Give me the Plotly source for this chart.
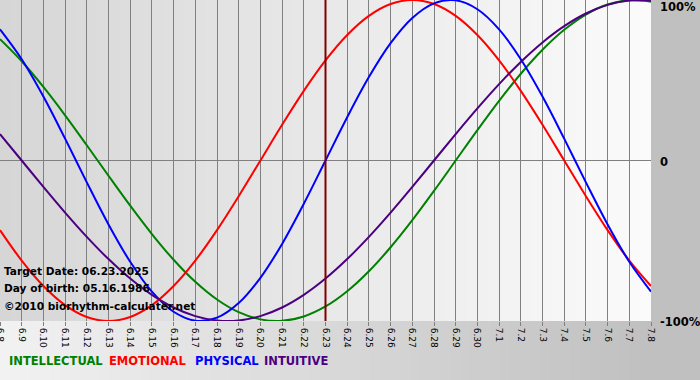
import plotly.graph_objects as go

# ---------------- data ----------------
dates = ["6.8", "6.9", "6.10", "6.11", "6.12", "6.13", "6.14", "6.15", "6.16", "6.17",
         "6.18", "6.19", "6.20", "6.21", "6.22", "6.23", "6.24", "6.25", "6.26", "6.27",
         "6.28", "6.29", "6.30", "7.1", "7.2", "7.3", "7.4", "7.5", "7.6", "7.7", "7.8"]

intellectual = [0.7557, 0.6182, 0.4582, 0.2817, 0.0951, -0.0951, -0.2817, -0.4582, -0.6182, -0.7557,
                -0.8660, -0.9450, -0.9898, -0.9989, -0.9718, -0.9096, -0.8146, -0.6901, -0.5406, -0.3717,
                -0.1893, 0.0, 0.1893, 0.3717, 0.5406, 0.6901, 0.8146, 0.9096, 0.9718, 0.9989, 0.9898]

emotional = [-0.4339, -0.6235, -0.7818, -0.9010, -0.9749, -1.0, -0.9749, -0.9010, -0.7818, -0.6235,
             -0.4339, -0.2225, 0.0, 0.2225, 0.4339, 0.6235, 0.7818, 0.9010, 0.9749, 1.0,
             0.9749, 0.9010, 0.7818, 0.6235, 0.4339, 0.2225, 0.0, -0.2225, -0.4339, -0.6235, -0.7818]

physical = [0.8170, 0.6310, 0.3984, 0.1362, -0.1362, -0.3984, -0.6310, -0.8170, -0.9423, -0.9977,
            -0.9791, -0.8879, -0.7308, -0.5196, -0.2698, 0.0, 0.2698, 0.5196, 0.7308, 0.8879,
            0.9791, 0.9977, 0.9423, 0.8170, 0.6310, 0.3984, 0.1362, -0.1362, -0.3984, -0.6310, -0.8170]

intuitive = [0.1646, 0.0, -0.1646, -0.3247, -0.4759, -0.6142, -0.7357, -0.8372, -0.9158, -0.9694,
             -0.9966, -0.9966, -0.9694, -0.9158, -0.8372, -0.7357, -0.6142, -0.4759, -0.3247, -0.1646,
             0.0, 0.1646, 0.3247, 0.4759, 0.6142, 0.7357, 0.8372, 0.9158, 0.9694, 0.9966, 0.9966]

target_date = "6.23"
y_tick_vals = [1, 0, -1]
y_tick_text = ["100%", "0", "-100%"]
info_lines = ["Target Date: 06.23.2025", "Day of birth: 05.16.1986", "©2010 biorhythm-calculater.net"]
legend_names = ["INTELLECTUAL", "EMOTIONAL", "PHYSICAL", "INTUITIVE"]

# ---------------- layout geometry ----------------
W, H = 700, 380
L, R, T, B = 0, 49, 0, 59
PW, PH = W - L - R, H - T - B

def px(x):
    return (x - L) / PW

def py(y):
    return (T + PH - y) / PH

colors = {"INTELLECTUAL": "#008000", "EMOTIONAL": "#ff0000",
          "PHYSICAL": "#0000ff", "INTUITIVE": "#4b0082"}
series = {"INTELLECTUAL": intellectual, "EMOTIONAL": emotional,
          "PHYSICAL": physical, "INTUITIVE": intuitive}

fig = go.Figure()
for name in ["INTELLECTUAL", "EMOTIONAL", "PHYSICAL", "INTUITIVE"]:
    fig.add_trace(go.Scatter(x=dates, y=series[name], mode="lines", name=name,
                             line=dict(color=colors[name], width=2, shape="spline", smoothing=1.0),
                             hoverinfo="skip", showlegend=False))

shapes = []
# paper background gradient (light on left -> gray on right)
N = 70
for i in range(N):
    x0 = i * W / N
    x1 = (i + 1) * W / N + 1
    t = min(1.0, (x0 + W / N / 2) / 650)
    c = int(round(0xf2 + (0xc0 - 0xf2) * t))
    shapes.append(dict(type="rect", xref="paper", yref="paper", layer="below",
                       x0=px(x0), x1=px(x1), y0=py(H + 2), y1=py(-2),
                       line=dict(width=0), fillcolor=f"rgb({c},{c},{c})"))
# plot-area gradient (gray on left -> white on right)
M = 60
n = len(dates) - 1
for i in range(M):
    a = i * n / M
    b = (i + 1) * n / M + 0.05
    t = (i + 0.5) / M
    c = int(round(0xd6 + (0xfb - 0xd6) * t))
    shapes.append(dict(type="rect", xref="x", yref="paper", layer="below",
                       x0=a, x1=min(b, n), y0=0, y1=1,
                       line=dict(width=0), fillcolor=f"rgb({c},{c},{c})"))
# target-date marker
ti = dates.index(target_date)
shapes.append(dict(type="line", xref="x", yref="paper", layer="above",
                   x0=ti, x1=ti, y0=0, y1=1, line=dict(color="#800000", width=2)))

annotations = []
font_main = "DejaVu Sans, Verdana, sans-serif"
# right-side y labels
ylab_pix = [7, 162, 322]
for txt, yp in zip(y_tick_text, ylab_pix):
    annotations.append(dict(text=f"<b>{txt}</b>", xref="paper", yref="paper",
                            x=px(658), y=py(yp), xanchor="left", yanchor="middle",
                            showarrow=False, font=dict(family=font_main, size=11.5, color="#000000")))
# info text
for i, txt in enumerate(info_lines):
    annotations.append(dict(text=f"<b>{txt}</b>", xref="paper", yref="paper",
                            x=px(2), y=py([271, 288, 306][i]), xanchor="left", yanchor="middle",
                            showarrow=False, font=dict(family=font_main, size=10.6, color="#000000")))
# legend
leg_x = [7, 107, 193, 262]
for name, lx in zip(legend_names, leg_x):
    annotations.append(dict(text=f"<b>{name}</b>", xref="paper", yref="paper",
                            x=px(lx), y=py(361), xanchor="left", yanchor="middle",
                            showarrow=False, font=dict(family=font_main, size=11.5, color=colors[name])))

fig.update_layout(
    width=W, height=H,
    margin=dict(l=L, r=R, t=T, b=B, pad=0, autoexpand=False),
    paper_bgcolor="#d8d8d8",
    plot_bgcolor="rgba(0,0,0,0)",
    shapes=shapes,
    annotations=annotations,
    xaxis=dict(type="category", range=[0, n], showgrid=True, gridcolor="#808080", gridwidth=1,
               ticks="outside", ticklen=4, tickcolor="#808080", tickwidth=1,
               tickangle=90, tickfont=dict(family=font_main, size=9, color="#000000"),
               showline=False, zeroline=False, fixedrange=True, automargin=False),
    yaxis=dict(range=[-1, 1], tickvals=y_tick_vals, showticklabels=False, showgrid=True,
               gridcolor="#808080", gridwidth=1, zeroline=False, showline=False, fixedrange=True,
               automargin=False),
    showlegend=False,
)

fig.write_html("out.html", config={"displayModeBar": False, "staticPlot": True},
               post_script="document.body.style.margin='0px';document.body.style.overflow='hidden';")
